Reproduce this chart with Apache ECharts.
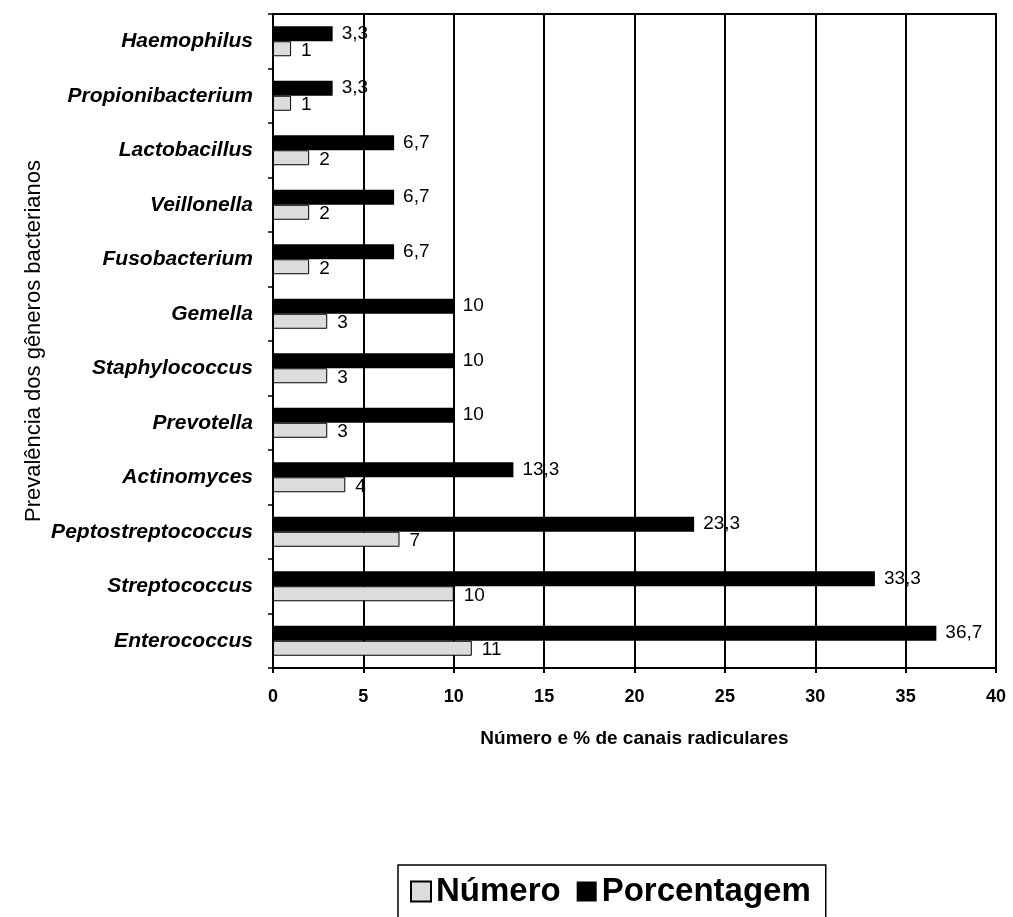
<!DOCTYPE html>
<html>
<head>
<meta charset="utf-8">
<script src="https://cdn.jsdelivr.net/npm/echarts@6/dist/echarts.min.js"></script>
<style>html,body{margin:0;padding:0;background:#fff;}#c{width:1013px;height:917px;}</style>
</head>
<body>
<div id="c"></div>
<script>
var categories = ['Haemophilus','Propionibacterium','Lactobacillus','Veillonella','Fusobacterium','Gemella','Staphylococcus','Prevotella','Actinomyces','Peptostreptococcus','Streptococcus','Enterococcus'];
var numero = [1,1,2,2,2,3,3,3,4,7,10,11];
var porcentagem = [3.3,3.3,6.7,6.7,6.7,10,10,10,13.3,23.3,33.3,36.7];
var xTicks = [0,5,10,15,20,25,30,35,40];

var FONT = 'Liberation Sans, Arial, sans-serif';
function fmt(p){ return String(p.value).replace('.', ','); }

var chart = echarts.init(document.getElementById('c'), null, {renderer:'canvas'});
chart.setOption({
  animation: false,
  backgroundColor: '#fff',
  textStyle: {fontFamily: FONT, color: '#000'},
  grid: {left: 273, right: 17, top: 14, bottom: 249, show: true, borderColor: '#000', borderWidth: 2, backgroundColor: 'transparent'},
  legend: {
    data: ['Número','Porcentagem'],
    left: 398, top: 865,
    icon: 'rect', itemWidth: 20, itemHeight: 20, itemGap: 16,
    textStyle: {fontFamily: FONT, fontSize: 33, fontWeight: 'bold', color: '#000'},
    borderColor: '#000', borderWidth: 1.5, borderRadius: 0,
    padding: [10, 15, 40, 12], backgroundColor: '#fff'
  },
  xAxis: {
    type: 'value', min: xTicks[0], max: xTicks[xTicks.length-1], interval: 5,
    axisLine: {show: true, lineStyle: {color: '#000', width: 2}},
    axisTick: {show: true, length: 5, lineStyle: {color: '#000', width: 2}},
    splitLine: {show: true, lineStyle: {color: '#000', width: 2}},
    axisLabel: {margin: 20, fontFamily: FONT, fontSize: 18, fontWeight: 'bold', color: '#000'},
    name: 'Número e % de canais radiculares', nameLocation: 'middle', nameGap: 61,
    nameMoveOverlap: false,
    nameTextStyle: {fontFamily: FONT, fontSize: 19, fontWeight: 'bold', color: '#000'}
  },
  yAxis: {
    type: 'category', data: categories, inverse: true,
    axisLine: {show: true, lineStyle: {color: '#000', width: 2}},
    axisTick: {show: true, length: 5, lineStyle: {color: '#000', width: 1.5}},
    axisLabel: {margin: 20, fontFamily: FONT, fontSize: 21, fontWeight: 'bold', fontStyle: 'italic', color: '#000'},
    name: 'Prevalência dos gêneros bacterianos', nameLocation: 'middle', nameGap: 228,
    nameMoveOverlap: false,
    nameTextStyle: {fontFamily: FONT, fontSize: 22, color: '#000'}
  },
  series: [
    {
      name: 'Porcentagem', type: 'bar', data: porcentagem, barWidth: 15, barGap: '0%',
      itemStyle: {color: '#000'},
      label: {show: true, position: 'right', distance: 9, formatter: fmt, fontFamily: FONT, fontSize: 19, color: '#000'},
      z: 3
    },
    {
      name: 'Número', type: 'bar', data: numero, barWidth: 15, barGap: '0%',
      itemStyle: {color: '#dcdcdc', borderColor: '#000', borderWidth: 1},
      label: {show: true, position: 'right', distance: 10, offset: [0, 2], formatter: fmt, fontFamily: FONT, fontSize: 19, color: '#000'},
      z: 3
    }
  ]
});
</script>
</body>
</html>
